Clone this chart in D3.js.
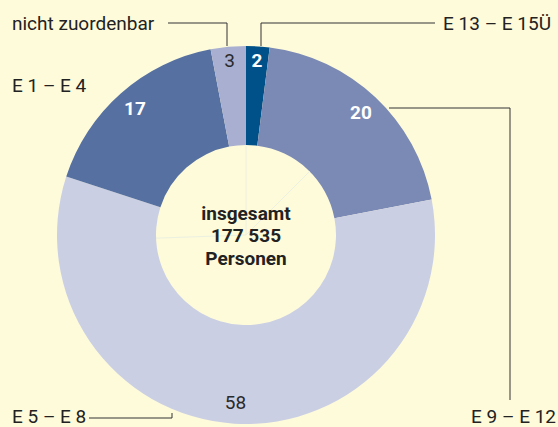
<!DOCTYPE html>
<html><head><meta charset="utf-8">
<script src="https://cdn.jsdelivr.net/npm/d3@7"></script>
<style>html,body{margin:0;padding:0;background:#fefbdb;}svg{display:block;}</style>
</head><body>
<svg id="c" width="558" height="427"></svg>
<script>
const categories = ["E 13 – E 15Ü", "E 9 – E 12", "E 5 – E 8", "E 1 – E 4", "nicht zuordenbar"];
const values = [2, 20, 58, 17, 3];
const colors = ["#005189", "#7b89b5", "#cbcfe4", "#5671a1", "#a8afd0"];
const labelColors = ["#ffffff", "#ffffff", "#2a2a2a", "#ffffff", "#2a2a2a"];
const labelWeights = ["bold", "bold", "normal", "bold", "normal"];
const centerLines = ["insgesamt", "177 535", "Personen"];

const svg = d3.select("#c");
const W = 558, H = 427;
svg.append("rect").attr("width", W).attr("height", H).attr("fill", "#fefbdb");
const cx = 246, cy = 235, rOuter = 189, rInner = 90;
const font = "Roboto, 'Liberation Sans', Arial, sans-serif";
const fs = 19;

const pie = d3.pie().sort(null).value(d => d)(values);
const arc = d3.arc().innerRadius(rInner).outerRadius(rOuter);
const g = svg.append("g").attr("transform", `translate(${cx},${cy})`);
g.selectAll("path").data(pie).join("path").attr("d", arc).attr("fill", (d, i) => colors[i]);

// faint guide lines inside the hole
[0, 45, 268].forEach(deg => {
  const a = deg * Math.PI / 180;
  g.append("line").attr("x1", 0).attr("y1", 0)
    .attr("x2", rInner * Math.sin(a)).attr("y2", -rInner * Math.cos(a))
    .attr("stroke", "#ebf0e0").attr("stroke-width", 1);
});

// value labels
const small = v => v < 5;
g.selectAll("text.v").data(pie).join("text").attr("class", "v")
  .attr("transform", d => {
    const r = small(d.data) ? 175 : 168;
    const a = (d.startAngle + d.endAngle) / 2;
    return `translate(${r * Math.sin(a)},${-r * Math.cos(a)})`;
  })
  .attr("text-anchor", "middle").attr("dominant-baseline", "central")
  .attr("font-family", font).attr("font-size", fs)
  .attr("font-weight", (d, i) => labelWeights[i])
  .attr("fill", (d, i) => labelColors[i])
  .text(d => d.data);

// center text
svg.append("g").selectAll("text").data(centerLines).join("text")
  .attr("x", cx).attr("y", (d, i) => 213 + i * 22.5)
  .attr("text-anchor", "middle").attr("dominant-baseline", "central")
  .attr("font-family", font).attr("font-size", fs).attr("font-weight", "bold")
  .attr("fill", "#222").text(d => d);

// category labels & leaders
const lab = svg.append("g").attr("font-family", font).attr("font-size", fs).attr("fill", "#222");
const line = d3.line();
const lc = "#333";
function leader(pts) {
  svg.append("path").attr("d", line(pts)).attr("fill", "none").attr("stroke", lc).attr("stroke-width", 1);
}
lab.append("text").attr("x", 12).attr("y", 23).attr("dominant-baseline", "central").text(categories[4]);
leader([[168, 23], [227, 23], [227, 46]]);
lab.append("text").attr("x", 551).attr("y", 23).attr("text-anchor", "end").attr("dominant-baseline", "central").text(categories[0]);
leader([[261, 46], [261, 23], [435, 23]]);
lab.append("text").attr("x", 12).attr("y", 85).attr("dominant-baseline", "central").text(categories[3]);
leader([[389, 108], [510, 108], [510, 400]]);
lab.append("text").attr("x", 556).attr("y", 416.5).attr("text-anchor", "end").attr("dominant-baseline", "central").text(categories[1]);
lab.append("text").attr("x", 12).attr("y", 416.5).attr("dominant-baseline", "central").text(categories[2]);
leader([[89, 418], [172, 418], [172, 413]]);
</script>
</body></html>
